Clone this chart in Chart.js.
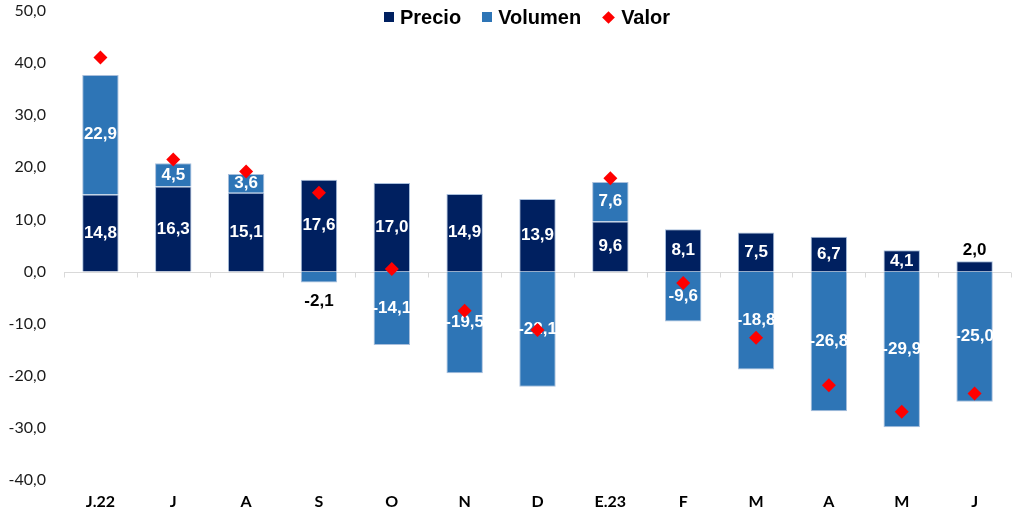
<!DOCTYPE html>
<html>
<head>
<meta charset="utf-8">
<script src="https://cdn.jsdelivr.net/npm/chart.js@4.4.0/dist/chart.umd.min.js"></script>
<style>
  html, body { margin: 0; padding: 0; background: #fff; overflow: hidden; }
  #wrap { position: relative; width: 1014px; height: 513px; overflow: hidden; }
  #legend {
    position: absolute; top: 5px; left: 384px;
    display: flex; align-items: center;
    font: bold 20px "Liberation Sans", Arial, sans-serif; line-height: 24px; color: #000;
  }
  #legend .item { display: flex; align-items: center; margin-right: 21px; }
  #legend .box { width: 10px; height: 10px; margin-right: 6px; }
  #legend .dia { width: 9px; height: 9px; margin: 0 8px 0 2px; transform: rotate(45deg); }
</style>
</head>
<body>
<div id="wrap">
  <canvas id="chart" width="1018" height="513"></canvas>
  <div id="legend"></div>
</div>
<script>
const categories = ["J.22", "J", "A", "S", "O", "N", "D", "E.23", "F", "M", "A", "M", "J"];
const precio = [14.8, 16.3, 15.1, 17.6, 17.0, 14.9, 13.9, 9.6, 8.1, 7.5, 6.7, 4.1, 2.0];
const volumen = [22.9, 4.5, 3.6, -2.1, -14.1, -19.5, -22.1, 7.6, -9.6, -18.8, -26.8, -29.9, -25.0];
const valor = [41.1, 21.5, 19.2, 15.1, 0.5, -7.5, -11.2, 17.9, -2.2, -12.7, -21.8, -26.9, -23.4];
const yTicks = [-40, -30, -20, -10, 0, 10, 20, 30, 40, 50];

const colors = { precio: "#002060", volumen: "#2e75b6", valor: "#ff0000" };
const fmt = v => v.toFixed(1).replace(".", ",");

// legend as html so it can sit inside the plot like the original
const legend = document.getElementById("legend");
[["Precio", colors.precio, "box"], ["Volumen", colors.volumen, "box"], ["Valor", colors.valor, "dia"]]
  .forEach(([name, col, cls]) => {
    const it = document.createElement("div");
    it.className = "item";
    it.innerHTML = `<span class="${cls}" style="background:${col}"></span><span>${name}</span>`;
    legend.appendChild(it);
  });

const extras = {
  id: "extras",
  beforeDatasetsDraw(chart) {
    const { ctx, chartArea, scales: { x, y } } = chart;
    const y0 = Math.round(y.getPixelForValue(0)) + 0.5;
    const step = x.width / categories.length;
    ctx.save();
    ctx.strokeStyle = "#d9d9d9";
    ctx.lineWidth = 1;
    ctx.beginPath();
    ctx.moveTo(chartArea.left, y0);
    ctx.lineTo(chartArea.right, y0);
    for (let i = 0; i <= categories.length; i++) {
      const px = Math.round(x.getPixelForValue(0) - step / 2 + i * step) + 0.5;
      ctx.moveTo(px, y0);
      ctx.lineTo(px, y0 + 5);
    }
    ctx.stroke();
    ctx.restore();
  },
  afterDatasetDraw(chart, args) {
    const meta = args.meta;
    if (meta.type !== "bar") return;
    const data = chart.data.datasets[args.index].data;
    const ctx = chart.ctx;
    ctx.save();
    ctx.font = 'bold 17px "Liberation Sans", Arial, sans-serif';
    ctx.textAlign = "center";
    ctx.textBaseline = "middle";
    meta.data.forEach((bar, i) => {
      const v = data[i];
      const { x, y, base } = bar.getProps(["x", "y", "base"], true);
      let ty = (y + base) / 2;
      ctx.fillStyle = "#fff";
      if (Math.abs(v) < 3) {
        ctx.fillStyle = "#000";
        ty = v < 0 ? y + 19 : y - 11;
      }
      ctx.fillText(fmt(v), x, ty);
    });
    ctx.restore();
  }
};

new Chart(document.getElementById("chart"), {
  data: {
    labels: categories,
    datasets: [
      {
        type: "line", label: "Valor", data: valor, stack: "valor", order: 0,
        showLine: false, pointStyle: "rectRot", pointRadius: 7,
        pointBackgroundColor: colors.valor, pointBorderColor: colors.valor, pointBorderWidth: 0
      },
      {
        type: "bar", label: "Precio", data: precio, stack: "s", order: 1,
        backgroundColor: colors.precio, borderColor: "#a9bfdc", borderWidth: 1,
        barPercentage: 0.5, categoryPercentage: 1
      },
      {
        type: "bar", label: "Volumen", data: volumen, stack: "s", order: 1,
        backgroundColor: colors.volumen, borderColor: "#a9bfdc", borderWidth: 1,
        barPercentage: 0.5, categoryPercentage: 1
      }
    ]
  },
  options: {
    responsive: false,
    animation: false,
    layout: { padding: { left: 4, top: 11, right: 0, bottom: 0 } },
    plugins: { legend: { display: false }, tooltip: { enabled: false } },
    scales: {
      x: {
        stacked: true,
        grid: { display: false, drawTicks: false },
        border: { display: false },
        ticks: { color: "#000", padding: 12, font: { family: "Lato", size: 16, weight: "bold" } },
        afterFit: s => { s.height = 33; s.paddingLeft = 0; s.paddingRight = 0; }
      },
      y: {
        stacked: true,
        min: -40, max: 50,
        grid: { display: false, drawTicks: false },
        border: { display: false },
        afterBuildTicks: s => { s.ticks = yTicks.map(v => ({ value: v })); },
        afterFit: s => { s.width = 60; s.paddingTop = 0; s.paddingBottom = 0; },
        ticks: {
          color: "#1a1a1a", padding: 18,
          font: { family: "Lato", size: 16 },
          callback: v => fmt(v)
        }
      }
    }
  },
  plugins: [extras]
});
</script>
</body>
</html>
